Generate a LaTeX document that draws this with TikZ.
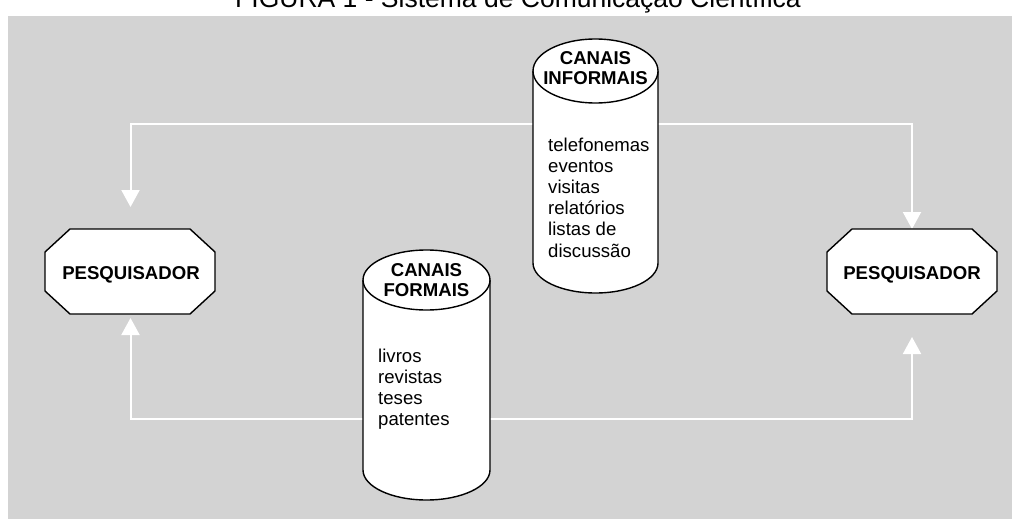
\documentclass[tikz,border=0pt]{standalone}
\usepackage{fontspec}
\setmainfont{Liberation Sans}
\usetikzlibrary{arrows.meta}
\definecolor{bg}{HTML}{D3D3D3}
\begin{document}
\begin{tikzpicture}[x=1pt,y=-1pt,
  lbl/.style={inner sep=0pt, font=\fontsize{18.6}{21.2}\selectfont},
  hdr/.style={inner sep=0pt, anchor=base, font=\fontsize{18.6}{20}\selectfont\bfseries},
  lst/.style={lbl, anchor=base west},
  flow/.style={draw=white, line width=2pt, -{Triangle[width=18pt,length=17pt]}},
  outline/.style={draw=black, line width=1.4pt, fill=white, line join=miter}]
\useasboundingbox (0,0) rectangle (1012,519);
\fill[bg] (8,16) rectangle (1012,519);
\node[inner sep=0pt, anchor=base, font=\fontsize{26.5}{30}\selectfont] (title) at (518,8) {FIGURA 1 - Sistema de Comunicação Científica};

% connector end points
\coordinate (infJ) at (595.5,124);
\coordinate (forJ) at (426.5,419);
\coordinate (aLT) at (130.5,207);
\coordinate (aRT) at (912,229);
\coordinate (aLB) at (130.5,318);
\coordinate (aRB) at (912,337);

\draw[flow] (infJ) -| (aLT);
\draw[flow] (infJ) -| (aRT);
\draw[flow] (forJ) -| (aLB);
\draw[flow] (forJ) -| (aRB);

% octagons
\draw[outline] (70,229) -- (190,229) -- (215,252) -- (215,291) -- (190,314) -- (70,314) -- (45,291) -- (45,252) -- cycle;
\draw[outline] (852,229) -- (972,229) -- (997,252) -- (997,291) -- (972,314) -- (852,314) -- (827,291) -- (827,252) -- cycle;
\node[hdr] (pesqL) at (131,279) {PESQUISADOR};
\node[hdr] (pesqR) at (912,279) {PESQUISADOR};

% informal cylinder
\draw[outline] (533,71) -- (533,263) arc[start angle=180, end angle=0, x radius=62.5, y radius=30] -- (658,71);
\draw[outline] (595.5,71) ellipse[x radius=62.5, y radius=32];
\node[hdr] (infH) at (595.5,65) {\begin{tabular}[t]{@{}c@{}}CANAIS\\INFORMAIS\end{tabular}};
\node[lst] (infL) at (548,151) {\begin{tabular}[t]{@{}l@{}}telefonemas\\eventos\\visitas\\relatórios\\listas de\\discussão\end{tabular}};

% formal cylinder
\draw[outline] (363,280) -- (363,470) arc[start angle=180, end angle=0, x radius=63.5, y radius=30] -- (490,280);
\draw[outline] (426.5,280) ellipse[x radius=63.5, y radius=30];
\node[hdr] (forH) at (426.5,276.5) {\begin{tabular}[t]{@{}c@{}}CANAIS\\FORMAIS\end{tabular}};
\node[lst] (forL) at (378,362) {\begin{tabular}[t]{@{}l@{}}livros\\revistas\\teses\\patentes\end{tabular}};
\end{tikzpicture}
\end{document}
